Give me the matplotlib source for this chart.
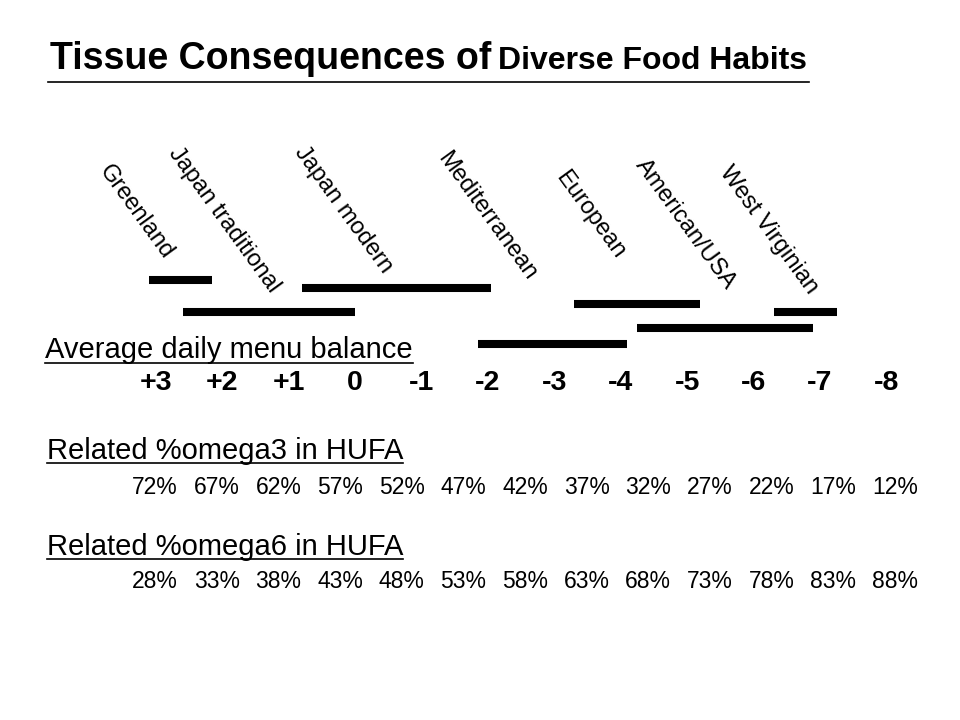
import matplotlib
matplotlib.use("Agg")
import matplotlib.pyplot as plt

plt.rcParams['font.family'] = ['Liberation Sans', 'DejaVu Sans']

# diet groups and their range on the daily menu balance scale
diets = ['Greenland', 'Japan traditional', 'Japan modern', 'Mediterranean',
         'European', 'American/USA', 'West Virginian']
bal_start = [3.1, 2.6, 0.8, -1.85, -3.3, -4.25, -6.3]
bal_end = [2.15, 0.0, -2.05, -4.1, -5.2, -6.9, -7.25]

balance_ticks = [3, 2, 1, 0, -1, -2, -3, -4, -5, -6, -7, -8]
balance_labels = ['+3', '+2', '+1', '0', '-1', '-2', '-3', '-4', '-5', '-6', '-7', '-8']

omega3 = [72, 67, 62, 57, 52, 47, 42, 37, 32, 27, 22, 17, 12]
omega6 = [28, 33, 38, 43, 48, 53, 58, 63, 68, 73, 78, 83, 88]

# layout (pixel rows / label placement)
bar_rows = [279.5, 312, 288, 343.5, 303.5, 328, 312]
label_x = [3.30, 1.98, 0.18, -1.98, -3.54, -4.97, -6.22]
label_y = [212, 220, 210, 216, 215, 224, 230]

fig = plt.figure(figsize=(9.6, 7.2), dpi=100)

# page axes: pixel coordinates, for headings
page = fig.add_axes([0, 0, 1, 1])
page.set_xlim(0, 960)
page.set_ylim(720, 0)
page.axis('off')

# balance axes: x in menu balance units
ax = fig.add_axes([0, 0, 1, 1], facecolor='none')
ax.set_xlim(5.349, -9.108)
ax.set_ylim(720, 0)
ax.axis('off')

# percentage axes: x is column index
axp = fig.add_axes([0, 0, 1, 1], facecolor='none')
axp.set_xlim(-2.513, 13.053)
axp.set_ylim(720, 0)
axp.axis('off')

ax.hlines(bar_rows, bal_start, bal_end, colors='black', linewidth=5.8)
for name, x, y in zip(diets, label_x, label_y):
    ax.text(x, y, name, rotation=-54, ha='center', va='center', fontsize=17)

for v, lab in zip(balance_ticks, balance_labels):
    ax.text(v, 383, lab, ha='center', va='center', fontsize=20.5, fontweight='bold')

for i, (a, b) in enumerate(zip(omega3, omega6)):
    axp.text(i, 487, f'{a}%', ha='center', va='center', fontsize=16.5)
    axp.text(i, 582, f'{b}%', ha='center', va='center', fontsize=16.5)

t1 = page.text(50, 69, 'Tissue Consequences of', fontsize=27, fontweight='bold', va='baseline')
h1 = page.text(45, 358, 'Average daily menu balance', fontsize=21, va='baseline')
h2 = page.text(47, 459, 'Related %omega3 in HUFA', fontsize=21, va='baseline')
h3 = page.text(47, 555, 'Related %omega6 in HUFA', fontsize=21, va='baseline')

fig.canvas.draw()
r = fig.canvas.get_renderer()
inv = page.transData.inverted()
x1 = inv.transform(t1.get_window_extent(r))[1][0]
t2 = page.text(x1 + 7, 69, 'Diverse Food Habits', fontsize=23, fontweight='bold', va='baseline')
fig.canvas.draw()
end = inv.transform(t2.get_window_extent(r))[1][0]
page.plot([48, end + 2], [82, 82], color='black', linewidth=1.2)

for h, yl in [(h1, 363), (h2, 463), (h3, 559)]:
    bb = inv.transform(h.get_window_extent(r))
    page.plot([bb[0][0], bb[1][0]], [yl, yl], color='black', linewidth=1.2)

fig.savefig('out.png', dpi=100)
